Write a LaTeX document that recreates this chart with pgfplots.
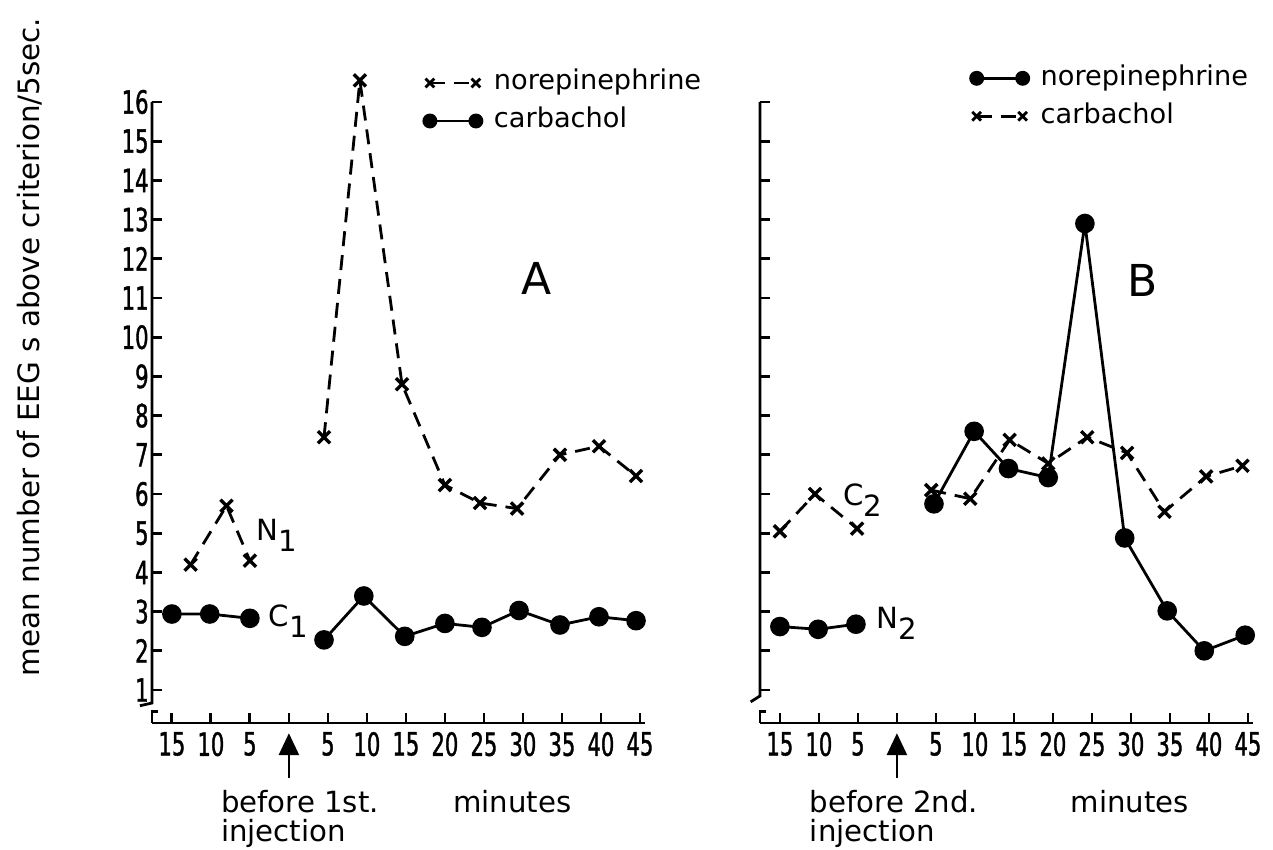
\documentclass[border=0pt]{standalone}
\usepackage{fontspec}
\setmainfont{DejaVu Sans}
\newfontfamily\digits[FakeStretch=0.66, FakeBold=1.2]{DejaVu Sans}
\usepackage{pgfplots}
\pgfplotsset{compat=1.18}
\usetikzlibrary{arrows.meta}

\newcommand{\txt}{\fontsize{13.6}{15}\selectfont}
\newcommand{\btxt}{\fontsize{14.6}{16}\selectfont}
\newcommand{\num}{\digits\fontsize{16}{17}\selectfont}

\pgfplotsset{
  panel/.style={
    width=246.5pt, height=310.5pt, scale only axis,
    xmin=-0.51, xmax=12.13, ymin=0.16, ymax=16,
    axis x line=bottom, axis y line=left,
    axis line style={line width=1.4pt, -},
    y axis line style={draw=none},
    xtick={0,...,12}, ytick={1,...,16},
    xticklabels={15,10,5,,5,10,15,20,25,30,35,40,45},
    tick align=inside, major tick length=5pt,
    tick style={line width=1.4pt, black},
    xticklabel style={font=\num, yshift=-1pt},
    yticklabel style={font=\num, inner sep=1.5pt},
    /pgf/number format/assume math mode=true,
    clip=false,
    legend image code/.code={\draw[##1, mark options={solid, scale=0.72}] plot coordinates {(0pt,0pt) (23pt,0pt)};},
    legend cell align=left,
    legend style={draw=none, fill=none, inner sep=0pt, font=\txt,
      nodes={inner sep=0pt, text height=9.5pt, text depth=2.5pt},
      row sep=7pt, /tikz/every odd column/.append style={column sep=6pt}},
  },
  xser/.style={black, line width=1.4pt, dash pattern=on 7.5pt off 4.5pt,
    mark=x, mark size=4.3pt, mark options={solid, line width=1.7pt}},
  dser/.style={black, line width=1.4pt, solid, mark=*, mark size=4.2pt},
}

\begin{document}
\begin{tikzpicture}
\path[use as bounding box] (-76pt,-63.5pt) rectangle (560.5pt,361.5pt);

% ---------------- panel A ----------------
\begin{axis}[panel,
  legend style={at={(axis cs:6.45,16.0)}, anchor=west}]
% norepinephrine (x, dashed)
\addplot[xser, forget plot] coordinates {(0.48,4.2) (1.4,5.7) (2.0,4.3)};
\addplot[xser] coordinates {
  (3.9,7.45) (4.82,16.55) (5.9,8.8) (7.0,6.23) (7.9,5.77)
  (8.85,5.63) (9.95,7.0) (10.95,7.22) (11.9,6.46)};
\addlegendentry{norepinephrine}
% carbachol (dots, solid)
\addplot[dser, forget plot] coordinates {(0,2.94) (0.97,2.94) (2.0,2.83)};
\addplot[dser] coordinates {
  (3.9,2.28) (4.92,3.4) (5.97,2.37) (7.0,2.7) (7.95,2.6)
  (8.9,3.03) (9.95,2.66) (10.95,2.87) (11.9,2.77)};
\addlegendentry{carbachol}

\draw[line width=1.4pt] (axis cs:-0.51,16) -- (axis cs:-0.51,0.67) -- (axis cs:-0.82,0.6);
\draw[line width=1.4pt] (axis cs:-0.36,0.45) -- (axis cs:-0.51,0.45) -- (axis cs:-0.51,0.16);
\draw[line width=1.4pt, -{Triangle[width=10pt,length=11pt]}] (axis cs:3,-1.24) -- (axis cs:3,-0.1);

\node[anchor=west, font=\btxt] at (axis cs:2.0,4.95) {N\raisebox{-0.7ex}{1}};
\node[anchor=west, font=\btxt] at (axis cs:2.3,2.75) {C\raisebox{-0.7ex}{1}};
\node[font=\fontsize{22}{24}\selectfont] at (axis cs:9.35,11.5) {A};
\node[anchor=base west, font=\btxt] at (axis cs:1.08,-2.12) {before 1st.};
\node[anchor=base west, font=\btxt] at (axis cs:1.08,-2.87) {injection};
\node[anchor=base west, font=\btxt] at (axis cs:7.03,-2.12) {minutes};
\node[rotate=90, font=\fontsize{14.7}{16}\selectfont] at (axis cs:-3.64,9.75) {mean number of EEG s above criterion/5sec.};
\end{axis}

% ---------------- panel B ----------------
\begin{axis}[panel, at={(304pt,0pt)}, yticklabel={\mbox{}},
  legend style={at={(axis cs:4.88,16.12)}, anchor=west}]
% norepinephrine (dots, solid)
\addplot[dser, forget plot] coordinates {(0,2.62) (0.98,2.55) (1.95,2.68)};
\addplot[dser] coordinates {
  (3.95,5.75) (4.98,7.6) (5.86,6.65) (6.88,6.42) (7.82,12.9)
  (8.84,4.88) (9.93,3.02) (10.88,2.0) (11.93,2.4)};
\addlegendentry{norepinephrine}
% carbachol (x, dashed)
\addplot[xser, forget plot] coordinates {(0,5.05) (0.9,6.0) (1.98,5.12)};
\addplot[xser] coordinates {
  (3.88,6.1) (4.88,5.88) (5.89,7.38) (6.88,6.78) (7.88,7.45)
  (8.9,7.05) (9.86,5.55) (10.93,6.45) (11.86,6.72)};
\addlegendentry{carbachol}

\draw[line width=1.4pt] (axis cs:-0.51,16) -- (axis cs:-0.51,0.85) -- (axis cs:-0.75,0.7);
\draw[line width=1.4pt] (axis cs:-0.36,0.45) -- (axis cs:-0.51,0.45) -- (axis cs:-0.51,0.16);
\draw[line width=1.4pt, -{Triangle[width=10pt,length=11pt]}] (axis cs:3,-1.24) -- (axis cs:3,-0.1);

\node[anchor=west, font=\btxt] at (axis cs:1.44,5.85) {C\raisebox{-0.7ex}{2}};
\node[anchor=west, font=\btxt] at (axis cs:2.3,2.7) {N\raisebox{-0.7ex}{2}};
\node[font=\fontsize{22}{24}\selectfont] at (axis cs:9.3,11.46) {B};
\node[anchor=base west, font=\btxt] at (axis cs:0.59,-2.12) {before 2nd.};
\node[anchor=base west, font=\btxt] at (axis cs:0.59,-2.87) {injection};
\node[anchor=base west, font=\btxt] at (axis cs:7.28,-2.12) {minutes};
\end{axis}
\end{tikzpicture}
\end{document}
